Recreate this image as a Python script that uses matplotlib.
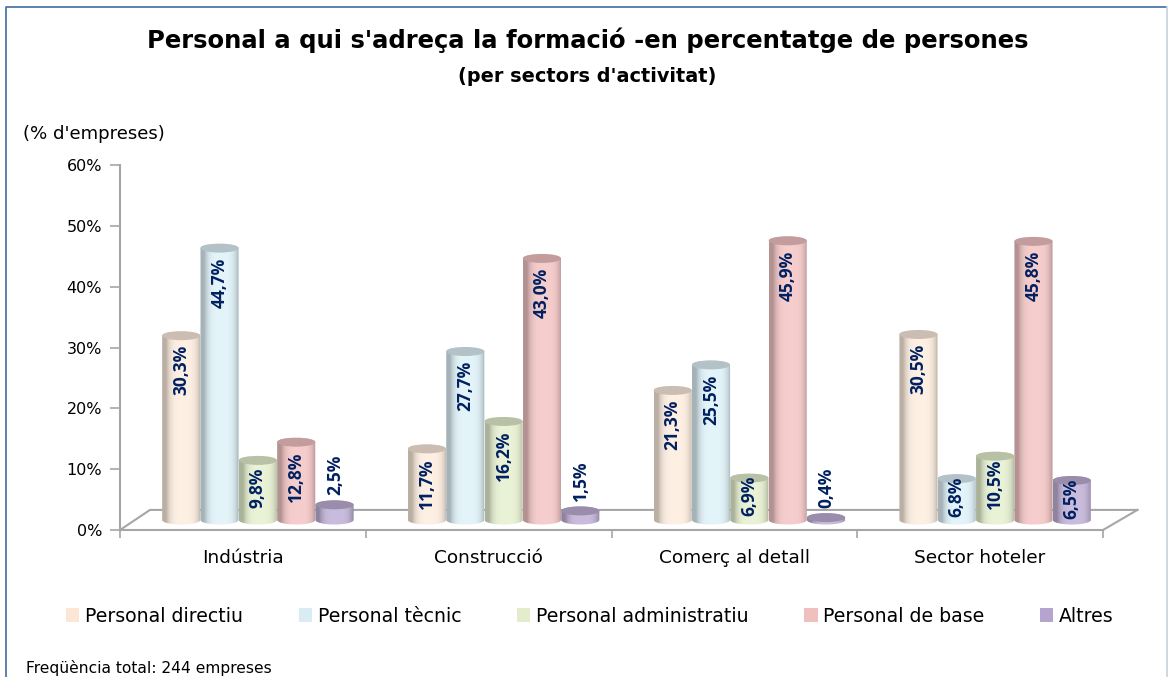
import matplotlib
matplotlib.use('Agg')
import matplotlib.pyplot as plt
import numpy as np
from matplotlib.patches import Ellipse, Polygon, Rectangle
from matplotlib.lines import Line2D
from matplotlib.ticker import FuncFormatter
from matplotlib.colors import to_rgb

plt.rcParams['font.family'] = ['DejaVu Sans']

sectors = ['Indústria', 'Construcció', 'Comerç al detall', 'Sector hoteler']
series = ['Personal directiu', 'Personal tècnic', 'Personal administratiu', 'Personal de base', 'Altres']
directiu = [30.3, 11.7, 21.3, 30.5]
tecnic = [44.7, 27.7, 25.5, 6.8]
administratiu = [9.8, 16.2, 6.9, 10.5]
base = [12.8, 43.0, 45.9, 45.8]
altres = [2.5, 1.5, 0.4, 6.5]
values = [directiu, tecnic, administratiu, base, altres]

colors = ['#FDEBDB', '#DCF1F8', '#E4EFCB', '#F3BFBF', '#BBA9D3']
legend_colors = ['#FCE6D6', '#DAECF3', '#E3EDCD', '#F0C0BE', '#B5A5CE']
label_color = '#002060'
axis_color = '#A6A6A6'

W, H = 1168, 677
fig = plt.figure(figsize=(W / 100, H / 100), dpi=100)
ax = fig.add_axes([120 / W, 1 - 530 / H, (1103 - 120) / W, (530 - 165) / H])
ax.set_xlim(0, 4)
ax.set_ylim(0, 60)

# 3D look: shift of the bars and size of the cylinders
x_shift = 0.061
y_shift = 1.64
bar_w = 0.155
bar_step = 0.156
ry = 0.74


def gradient(color):
    c = np.array(to_rgb(color))
    edge = c * 0.66 + 0.08
    t = np.linspace(0, 1, 64)
    # light in the middle, dark on both sides
    k = np.clip(np.abs(t - 0.55) / 0.45, 0, 1) ** 4
    light = c + (1 - c) * 0.22
    return (light[None, :] * (1 - k[:, None]) + edge[None, :] * k[:, None])[None, :, :]


def draw_cylinder(x, value, color, z):
    left, right = x - bar_w / 2, x + bar_w / 2
    top = y_shift + value
    a = np.linspace(np.pi, 2 * np.pi, 30)
    low = np.column_stack([x + bar_w / 2 * np.cos(a), y_shift + ry * np.sin(a)])
    b = np.linspace(0, np.pi, 30)
    up = np.column_stack([x + bar_w / 2 * np.cos(b), top + ry * np.sin(b)])
    shape = Polygon(np.vstack([low, up]), closed=True, transform=ax.transData, fc='none', ec='none')
    ax.add_patch(shape)
    shape.set_clip_on(False)
    im = ax.imshow(gradient(color), extent=[left, right, y_shift - ry, top + ry], aspect='auto',
                   interpolation='bilinear', zorder=z)
    im.set_clip_path(shape)
    c = np.array(to_rgb(color))
    ax.add_patch(Ellipse((x, top), bar_w, 2 * ry, fc=c * 0.74 + 0.06, ec='none', zorder=z + 0.1, clip_on=False))


# floor of the 3D chart
floor_x = [0, 0.122, 4.14, 4]
floor_y = [0, 3.3, 3.3, 0]
ax.plot(floor_x[:3], floor_y[:3], color=axis_color, lw=1.5, zorder=1, clip_on=False)
ax.plot(floor_x[2:], floor_y[2:], color=axis_color, lw=1.5, zorder=1, clip_on=False)

for j, vals in enumerate(values):
    for i, v in enumerate(vals):
        x = i + 0.5 + x_shift + (j - 2) * bar_step
        draw_cylinder(x, v, colors[j], 2 + j)
        txt = f'{v:.1f}%'.replace('.', ',')
        if v < 3:
            ax.text(x + 0.002, y_shift + v + 1.6, txt, rotation=90, ha='center', va='bottom', color=label_color,
                    fontsize=12.5, fontweight='bold', family='Open Sans', zorder=20)
        else:
            # short bars keep the label closer to the top
            drop = 5.7 if v >= 11 else 4.5 if v >= 8 else 3
            ax.text(x, y_shift + v - drop, txt, rotation=90, ha='center', va='center', color=label_color,
                    fontsize=12.5, fontweight='bold', family='Open Sans', zorder=20)

ax.set_xlim(0, 4)
ax.set_ylim(0, 60)
for s in ['top', 'right']:
    ax.spines[s].set_visible(False)
for s in ['left', 'bottom']:
    ax.spines[s].set_color(axis_color)
    ax.spines[s].set_linewidth(1.5)

ax.set_yticks(range(0, 61, 10))
ax.yaxis.set_major_formatter(FuncFormatter(lambda v, p: f'{v:.0f}%'))
ax.set_xticks(range(5))
ax.set_xticklabels([])
ax.set_xticks([i + 0.5 for i in range(4)], minor=True)
ax.set_xticklabels(sectors, minor=True, fontsize=13.3)
ax.tick_params(axis='x', which='minor', length=0, pad=14)
ax.tick_params(axis='x', which='major', length=6, color=axis_color, width=1.2)
ax.tick_params(axis='y', length=7, color=axis_color, width=1.2, labelsize=11.5, pad=6)

# titles and notes
fig.text(588 / W, 1 - 40 / H, "Personal a qui s'adreça la formació -en percentatge de persones", ha='center',
         va='center', fontsize=17.5, fontweight='bold')
fig.text(587 / W, 1 - 76 / H, "(per sectors d'activitat)", ha='center', va='center', fontsize=13.85,
         fontweight='bold')
fig.text(23 / W, 1 - 134 / H, "(% d'empreses)", ha='left', va='center', fontsize=13.1)
fig.text(26 / W, 1 - 668 / H, 'Freqüència total: 244 empreses', ha='left', va='center', fontsize=11.2)

handles = [Rectangle((0, 0), 1, 1, fc=c, ec='none') for c in legend_colors]
fig.legend(handles, series, ncol=5, loc='center', bbox_to_anchor=(590 / W, 1 - 616 / H), frameon=False,
           fontsize=13.6, handlelength=0.7, handleheight=0.7, handletextpad=0.3, columnspacing=2.95)

# outer frame, only left and top are strong
fig.add_artist(Line2D([6 / W, 6 / W, 1166 / W], [0, 1 - 7 / H, 1 - 7 / H], transform=fig.transFigure,
                      color='#4F77A8', lw=1.3))
fig.add_artist(Line2D([1167 / W, 1167 / W], [0, 1 - 7 / H], transform=fig.transFigure, color='#C5D2E2', lw=1.2))

fig.savefig('out.png', dpi=100)
plt.close(fig)
